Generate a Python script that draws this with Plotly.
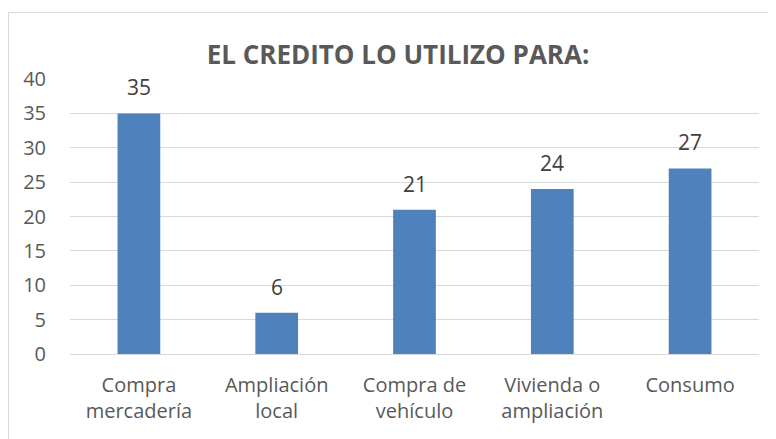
import plotly.graph_objects as go

categories = ["Compra<br>mercadería", "Ampliación<br>local", "Compra de<br>vehículo", "Vivienda o<br>ampliación", "Consumo"]
values = [35, 6, 21, 24, 27]
y_ticks = [0, 5, 10, 15, 20, 25, 30, 35, 40]

FONT = "Open Sans"
GREY = "#595959"

# page body margin offsets the figure by 8px
OFF = 8
PL, PR, PT, PB = 70, 759, 79, 354  # desired plot area in screenshot px
W, H = 776, 439
ml, mt = PL - OFF, PT - OFF
mr = W + OFF - PR
mb = H + OFF - PB
pw, ph = PR - PL, PB - PT

fig = go.Figure()
fig.add_trace(go.Bar(
    x=categories, y=values,
    marker=dict(color="#4F81BD", line=dict(width=0)),
    width=0.31,
))

for c, v in zip(categories, values):
    fig.add_annotation(x=c, y=v, text=str(v), showarrow=False,
                       yanchor="bottom", yshift=10,
                       font=dict(family=FONT, size=21, color="#404040"))

# chart border (only left/top visible in the reference)
fig.add_shape(type="rect", xref="paper", yref="paper",
              x0=(8.5 - PL) / pw, x1=1.2, y0=-0.5, y1=1 + (PT - 12.5) / ph,
              line=dict(color="#D9D9D9", width=1), fillcolor="rgba(0,0,0,0)",
              layer="below")

fig.update_layout(
    width=W, height=H,
    margin=dict(l=ml, r=mr, t=mt, b=mb),
    paper_bgcolor="white", plot_bgcolor="white",
    showlegend=False,
    title=dict(text="<b>EL CREDITO LO UTILIZO PARA:</b>",
               x=(398 - OFF) / W, xanchor="center", xref="container",
               y=1 - (55 - OFF) / H, yanchor="middle", yref="container",
               font=dict(family=FONT, size=26, color=GREY)),
    font=dict(family=FONT, size=20, color=GREY),
    xaxis=dict(showgrid=False, showline=False, ticks="",
               ticklabelstandoff=17,
               tickfont=dict(family=FONT, size=20, color=GREY)),
    yaxis=dict(range=[0, 40], tickvals=y_ticks, showgrid=True,
               gridcolor="#D9D9D9", gridwidth=1, zeroline=True,
               zerolinecolor="#D9D9D9", zerolinewidth=1, showline=False,
               ticks="", ticklabelstandoff=23,
               tickfont=dict(family=FONT, size=20, color=GREY)),
)

fig.write_html("out.html")
